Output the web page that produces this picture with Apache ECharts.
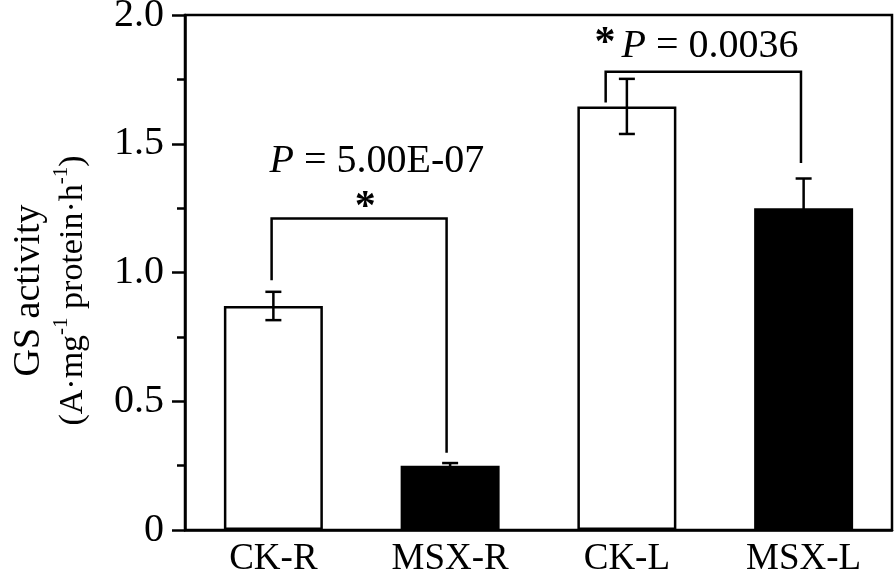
<!DOCTYPE html>
<html>
<head>
<meta charset="utf-8">
<script src="https://cdn.jsdelivr.net/npm/echarts@6/dist/echarts.min.js"></script>
<style>
html,body{margin:0;padding:0;background:#fff;}
#chart{width:896px;height:585px;}
</style>
</head>
<body>
<div id="chart"></div>
<script>
// ---- data ----
const categories = ['CK-R', 'MSX-R', 'CK-L', 'MSX-L'];
const means = [0.87, 0.25, 1.645, 1.25];
const errors = [0.055, 0.01, 0.107, 0.115];
const yTicks = [0, 0.5, 1.0, 1.5, 2.0];
// brackets (x in category units, y in data units)
const bracketLeftX = [-0.01, 1.88];
const bracketRightX = [0.98, 2.985];
const bracketLeftY = [0.97, 1.66];
const bracketTopY = [1.21, 1.78];
const bracketRightY = [0.30, 1.425];
// annotations
const annotX = [0.586, 0.52, 2.47, 1.876];
const annotY = [1.43, 1.25, 1.876, 1.885];
const annotText = ['{i|P} = 5.00E-07', '{b|*}', '{i|P} = 0.0036', '{b|*}'];

const FONT = "'Liberation Serif','Times New Roman',serif";
const chart = echarts.init(document.getElementById('chart'), null, {renderer: 'canvas'});

// fractional position on a category axis
function fcoord(api, x, y) {
  const i = Math.round(x);
  const base = api.coord([i, y]);
  const bw = api.size([1, 0])[0];
  return [base[0] + (x - i) * bw, base[1]];
}

const option = {
  backgroundColor: '#fff',
  animation: false,
  grid: {left: 185, right: 4, top: 15, bottom: 55, containLabel: false, outerBoundsMode: 'none', show: true, borderColor: '#000', borderWidth: 2.5, backgroundColor: 'transparent'},
  xAxis: {
    type: 'category',
    data: categories,
    axisLine: {lineStyle: {color: '#000', width: 2.5}},
    axisTick: {show: false},
    axisLabel: {color: '#000', fontFamily: FONT, fontSize: 37, margin: 11}
  },
  yAxis: {
    type: 'value',
    min: yTicks[0],
    max: yTicks[yTicks.length - 1],
    interval: 0.5,
    axisLine: {show: true, lineStyle: {color: '#000', width: 2.5}},
    axisTick: {show: true, inside: false, length: 13, lineStyle: {color: '#000', width: 2.5}},
    minorTick: {show: true, splitNumber: 2, length: 8, lineStyle: {color: '#000', width: 2.5}},
    splitLine: {show: false},
    axisLabel: {
      color: '#000', fontFamily: FONT, fontSize: 40, margin: 21,
      formatter: v => v === 0 ? '0' : v.toFixed(1)
    },
    name: '{a|GS activity}\n{b|(A·mg}{s|-1}{b| protein·h}{s|-1}{b|)}',
    nameLocation: 'middle',
    nameRotate: 90,
    nameGap: 90,
    nameTextStyle: {
      color: '#000', fontFamily: FONT,
      padding: [0, 36, 0, 0],
      rich: {
        a: {fontSize: 38, fontFamily: FONT, color: '#000', lineHeight: 44},
        b: {fontSize: 34, fontFamily: FONT, color: '#000', lineHeight: 44},
        s: {fontSize: 21, fontFamily: FONT, color: '#000', lineHeight: 44, verticalAlign: 'top'}
      }
    }
  },
  series: [
    {
      type: 'bar',
      data: means,
      barWidth: '56%',
      itemStyle: {
        color: p => (p.dataIndex % 2 === 0 ? '#fff' : '#000'),
        borderColor: '#000',
        borderWidth: 2.5
      },
      z: 2
    },
    {
      type: 'custom',
      data: means.map((m, i) => [i, m, errors[i]]),
      z: 3,
      renderItem: (params, api) => {
        const x = api.value(0), m = api.value(1), e = api.value(2);
        const top = api.coord([x, m + e]);
        const bot = api.coord([x, m - e]);
        const cap = 8;
        return {
          type: 'group',
          children: [
            {type: 'line', shape: {x1: top[0], y1: top[1], x2: bot[0], y2: bot[1]}, style: {stroke: '#000', lineWidth: 2.5}},
            {type: 'line', shape: {x1: top[0] - cap, y1: top[1], x2: top[0] + cap, y2: top[1]}, style: {stroke: '#000', lineWidth: 2.5}},
            {type: 'line', shape: {x1: bot[0] - cap, y1: bot[1], x2: bot[0] + cap, y2: bot[1]}, style: {stroke: '#000', lineWidth: 2.5}}
          ]
        };
      }
    },
    {
      type: 'custom',
      data: bracketLeftX.map((x, i) => [x, bracketRightX[i], bracketLeftY[i], bracketTopY[i], bracketRightY[i]]),
      z: 4,
      renderItem: (params, api) => {
        const p1 = fcoord(api, api.value(0), api.value(2));
        const p2 = fcoord(api, api.value(0), api.value(3));
        const p3 = fcoord(api, api.value(1), api.value(3));
        const p4 = fcoord(api, api.value(1), api.value(4));
        return {
          type: 'polyline',
          shape: {points: [p1, p2, p3, p4]},
          style: {stroke: '#000', lineWidth: 2.5, fill: 'none'}
        };
      }
    },
    {
      type: 'custom',
      data: annotX.map((x, i) => [x, annotY[i], i]),
      z: 5,
      renderItem: (params, api) => {
        const p = fcoord(api, api.value(0), api.value(1));
        const t = annotText[api.value(2)];
        return {
          type: 'text',
          x: p[0], y: p[1],
          style: {
            text: t,
            fontFamily: FONT, fontSize: 40, fill: '#000',
            align: 'center', verticalAlign: 'middle',
            rich: {
              i: {fontStyle: 'italic', fontFamily: FONT, fontSize: 40, fill: '#000'},
              b: {fontWeight: 'bold', fontFamily: FONT, fontSize: 42, fill: '#000'}
            }
          }
        };
      }
    }
  ]
};
chart.setOption(option);
</script>
</body>
</html>
